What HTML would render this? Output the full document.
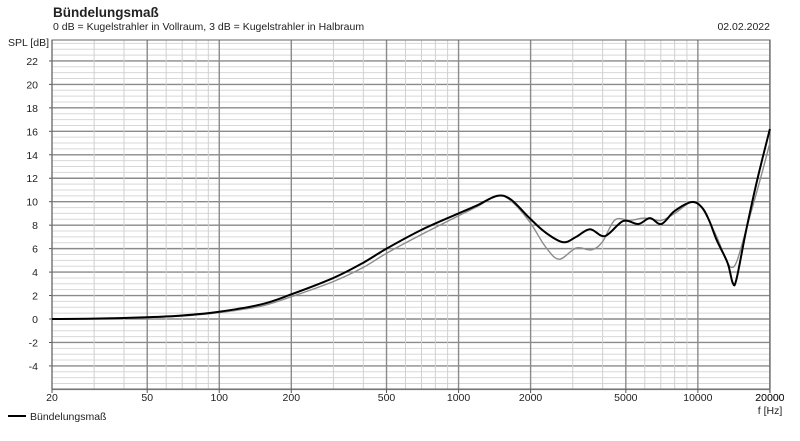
<!DOCTYPE html>
<html><head><meta charset="utf-8"><style>
body{margin:0;background:#fff;width:800px;height:436px;overflow:hidden;font-family:"Liberation Sans",sans-serif}
svg text{font-family:"Liberation Sans",sans-serif;fill:#222}
</style></head><body>
<svg id="s" width="800" height="436" xmlns="http://www.w3.org/2000/svg">
<text x="53" y="17" font-size="13.5" font-weight="bold">Bündelungsmaß</text>
<text x="53" y="30" font-size="10.5">0 dB = Kugelstrahler in Vollraum, 3 dB = Kugelstrahler in Halbraum</text>
<text x="770" y="30" font-size="10.5" text-anchor="end">02.02.2022</text>
<text x="49" y="46" font-size="10.5" text-anchor="end">SPL [dB]</text>
<text x="770" y="414" font-size="10.5" text-anchor="middle">f [Hz]</text>
<line x1="8" y1="416" x2="26" y2="416" stroke="#000" stroke-width="2"/>
<text x="30" y="420" font-size="10.5">Bündelungsmaß</text>
<g id="grid"></g><g id="curves"></g>
</svg>
<script>
const L=52,R=770,T=40,B=389;
const X=f=>L+239.3*Math.log10(f/20), Y=d=>319-11.73*d;
const g=document.getElementById('grid');let h='';
for(let d=-6;d<=24;d+=0.5){const y=Y(d);if(y<T-0.5||y>B+0.5)continue;const maj=d%2===0;
h+=`<line x1="${L}" x2="${R}" y1="${y}" y2="${y}" stroke="${maj?'#8a8a8a':'#d8d8d8'}" stroke-width="${maj?1.4:1}"/>`;
if(maj&&d>=-4&&d<=22){h+=`<line x1="${L-3}" x2="${L}" y1="${y}" y2="${y}" stroke="#555"/><text x="38" y="${y+4}" font-size="10.5" text-anchor="end">${d}</text>`;}}
const fs=[];for(const dec of [10,100,1000,10000])for(let m=1;m<10;m++){const f=m*dec;if(f>=20&&f<=20000)fs.push(f);}fs.push(20000);
const maj=[20,50,100,200,500,1000,2000,5000,10000,20000];
for(const f of fs){const x=X(f),mj=maj.includes(f);
h+=`<line x1="${x}" x2="${x}" y1="${T}" y2="${B}" stroke="${mj?'#8a8a8a':'#d0d0d0'}" stroke-width="${mj?1.4:1}"/>`;
if(mj)h+=`<line x1="${x}" x2="${x}" y1="${B}" y2="${B+4}" stroke="#555"/><text x="${x}" y="401" font-size="10.5" text-anchor="middle">${f}</text>`;}
h+=`<rect x="${L}" y="${T}" width="${R-L}" height="${B-T}" fill="none" stroke="#666"/>`;
g.innerHTML=h;
const blk=[[20,0],[30,0.03],[50,0.15],[70,0.3],[100,0.62],[150,1.25],[200,2.1],[300,3.5],[400,4.8],[500,6.0],[700,7.6],[1000,9.0],[1200,9.7],[1448,10.5],[1650,10.2],[1980,8.6],[2300,7.4],[2730,6.55],[3100,7.0],[3540,7.65],[4090,7.07],[4870,8.35],[5640,8.1],[6310,8.6],[7040,8.1],[7990,9.2],[9450,9.97],[10450,9.46],[11200,8.3],[12000,6.7],[13300,4.8],[13990,3.07],[14500,3.4],[15930,7.6],[17700,11.85],[20000,16.2]];
const gry=[[20,0],[30,0.03],[50,0.12],[70,0.25],[100,0.55],[150,1.1],[200,1.9],[300,3.2],[400,4.4],[500,5.6],[700,7.2],[1000,8.8],[1200,9.6],[1448,10.5],[1650,10.1],[1980,8.3],[2300,6.2],[2630,5.1],[3100,6.05],[3600,5.9],[4000,6.6],[4500,8.44],[5200,8.4],[6000,8.6],[7000,8.4],[8000,9.0],[9450,10.0],[10450,9.4],[12000,7.0],[13000,5.2],[13800,4.4],[14600,5.0],[16000,7.8],[18000,11.5],[20000,15.0]];
function path(p){const q=p.map(([f,d])=>[X(f),Y(d)]);let s=`M${q[0][0]},${q[0][1]}`;
for(let i=0;i<q.length-1;i++){const p0=q[Math.max(0,i-1)],p1=q[i],p2=q[i+1],p3=q[Math.min(q.length-1,i+2)];
s+=`C${p1[0]+(p2[0]-p0[0])/6},${p1[1]+(p2[1]-p0[1])/6} ${p2[0]-(p3[0]-p1[0])/6},${p2[1]-(p3[1]-p1[1])/6} ${p2[0]},${p2[1]}`;}return s;}
document.getElementById('curves').innerHTML=`<path d="${path(gry)}" fill="none" stroke="#8c8c8c" stroke-width="1.4"/><path d="${path(blk)}" fill="none" stroke="#000" stroke-width="2"/>`;
</script>
</body></html>
